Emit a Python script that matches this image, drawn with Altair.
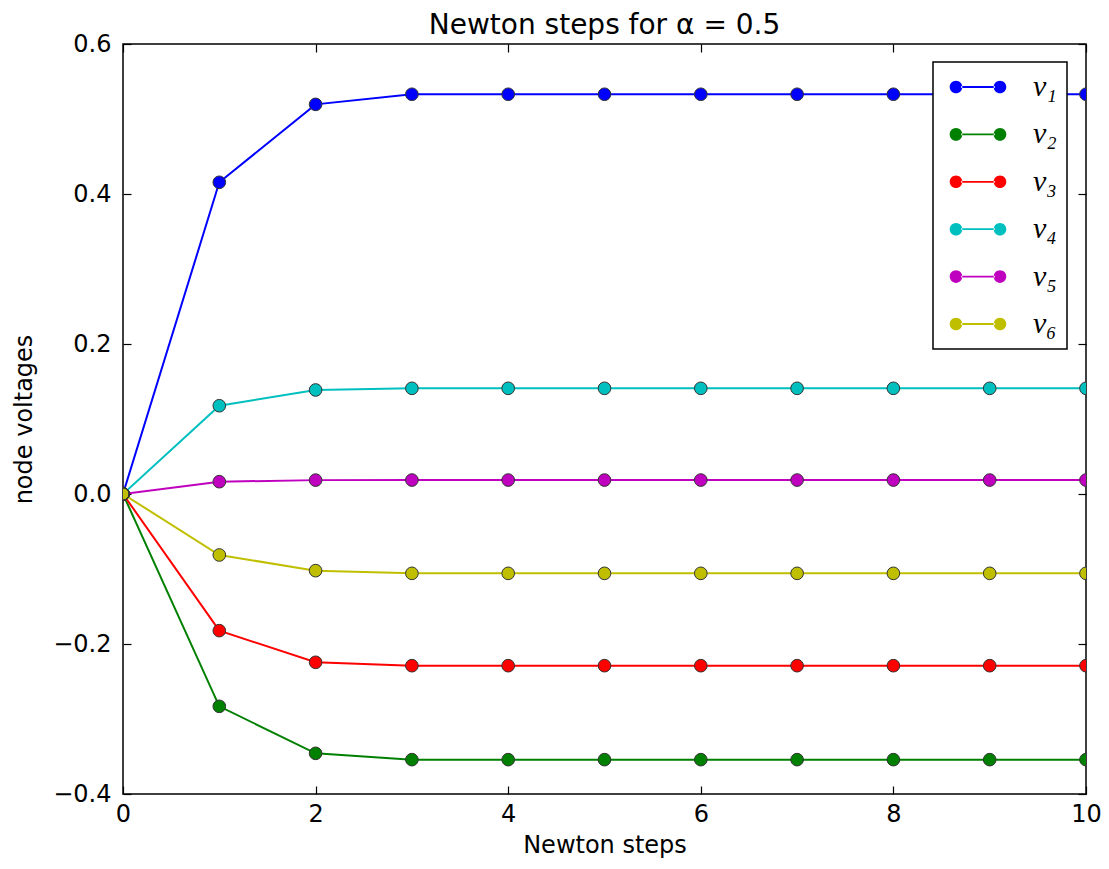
import altair as alt
import pandas as pd

steps = list(range(11))
series = ["v₁", "v₂", "v₃", "v₄", "v₅", "v₆"]
colors = ["#0000ff", "#008000", "#ff0000", "#00bfbf", "#bf00bf", "#bfbf00"]

v1 = [0.0, 0.4156, 0.5195, 0.5330, 0.5330, 0.5330, 0.5330, 0.5330, 0.5330, 0.5330, 0.5330]
v2 = [0.0, -0.2831, -0.3458, -0.3542, -0.3542, -0.3542, -0.3542, -0.3542, -0.3542, -0.3542, -0.3542]
v3 = [0.0, -0.1822, -0.2244, -0.2289, -0.2289, -0.2289, -0.2289, -0.2289, -0.2289, -0.2289, -0.2289]
v4 = [0.0, 0.1177, 0.1387, 0.1409, 0.1409, 0.1409, 0.1409, 0.1409, 0.1409, 0.1409, 0.1409]
v5 = [0.0, 0.0164, 0.0185, 0.0186, 0.0186, 0.0186, 0.0186, 0.0186, 0.0186, 0.0186, 0.0186]
v6 = [0.0, -0.0813, -0.1022, -0.1058, -0.1058, -0.1058, -0.1058, -0.1058, -0.1058, -0.1058, -0.1058]

x_ticks = [0, 2, 4, 6, 8, 10]
y_ticks = [-0.4, -0.2, 0.0, 0.2, 0.4, 0.6]

rows = []
for name, vals in zip(series, [v1, v2, v3, v4, v5, v6]):
    for s, v in zip(steps, vals):
        rows.append({"step": s, "value": v, "series": name})
df = pd.DataFrame(rows)

xs = alt.Scale(domain=[0, 10], nice=False, zero=False)
ys = alt.Scale(domain=[-0.4, 0.6], nice=False, zero=False)

# legend symbol: line with a marker at each end (all filled shapes)
sym = ("M-2.358,0A0.525,0.525,0,1,0,-1.308,0A0.525,0.525,0,1,0,-2.358,0Z"
       "M1.308,0A0.525,0.525,0,1,0,2.358,0A0.525,0.525,0,1,0,1.308,0Z"
       "M-1.4,-0.075L1.4,-0.075L1.4,0.075L-1.4,0.075Z")

legend = alt.Legend(
    title=None, orient="none", legendX=810, legendY=18, direction="vertical",
    symbolType=sym, symbolSize=576, symbolStrokeWidth=0, symbolOffset=20,
    padding=10, rowPadding=17.4, labelOffset=40,
    labelFont="Liberation Serif", labelFontStyle="italic", labelFontSize=30,
    labelColor="black", strokeColor="black", fillColor="white", cornerRadius=0,
)
color = alt.Color("series:N", scale=alt.Scale(domain=series, range=colors), legend=legend)

ax_common = dict(tickSize=8, offset=-8, domain=False, grid=False, tickColor="black",
                 tickWidth=1.2, labelFlush=False)

lines = alt.Chart(df).mark_line(strokeWidth=2, clip=True).encode(
    x=alt.X("step:Q", scale=xs, axis=alt.Axis(orient="bottom", values=x_ticks, format="d",
            title="Newton steps", labelPadding=8, titlePadding=7, **ax_common)),
    y=alt.Y("value:Q", scale=ys, axis=alt.Axis(orient="left", values=y_ticks, format=".1f",
            title="node voltages", labelPadding=12, titlePadding=16, **ax_common)),
    color=color,
    order="step:Q",
)

points = alt.Chart(df).mark_point(filled=True, size=160, opacity=1, clip=True).encode(
    x=alt.X("step:Q", scale=xs, axis=alt.Axis(orient="top", values=x_ticks, labels=False,
            title=None, **ax_common)),
    y=alt.Y("value:Q", scale=ys, axis=alt.Axis(orient="right", values=y_ticks, labels=False,
            title=None, **ax_common)),
    color=color,
)

outlines = alt.Chart(df).mark_point(filled=False, size=160, opacity=1, stroke="#333333",
                                    strokeWidth=1, clip=True).encode(
    x=alt.X("step:Q", scale=xs, axis=None),
    y=alt.Y("value:Q", scale=ys, axis=None),
)

chart = alt.layer(lines, points, outlines).resolve_axis(x="independent", y="independent").properties(
    width=963, height=750,
    title=alt.Title("Newton steps for α = 0.5", fontSize=28, font="DejaVu Sans",
                    fontWeight="normal", color="black", anchor="middle", offset=-8),
    autosize=alt.AutoSizeParams(type="none"),
    padding={"left": 115, "top": 36, "right": 15, "bottom": 67},
).configure_view(stroke="black", strokeWidth=1.5).configure_axis(
    labelFont="DejaVu Sans", labelFontSize=24, labelColor="black",
    titleFont="DejaVu Sans", titleFontSize=24, titleFontWeight="normal", titleColor="black",
).configure_legend(strokeWidth=1.5)

chart.save("out.html", embed_options={"renderer": "svg", "actions": False})
